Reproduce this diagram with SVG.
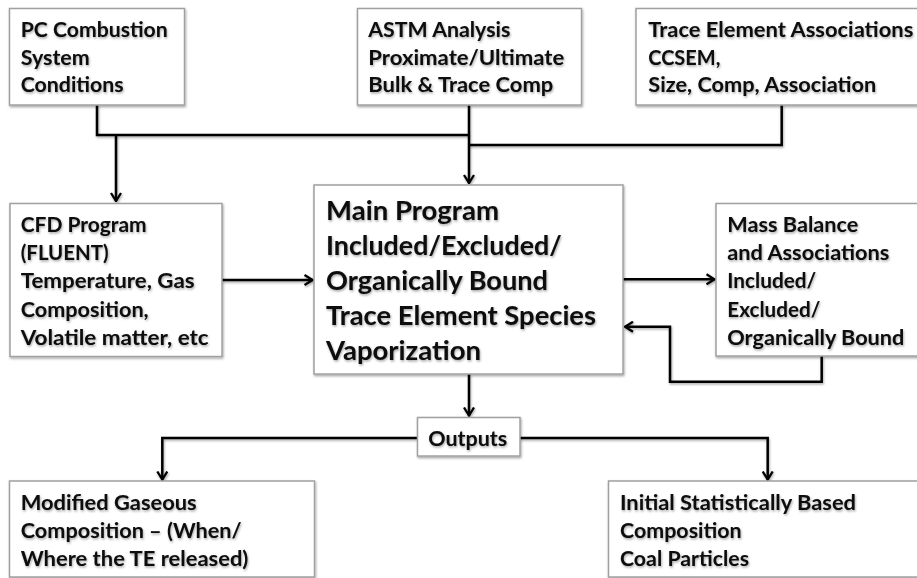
<svg xmlns="http://www.w3.org/2000/svg" width="917" height="578" viewBox="0 0 917 578">
<defs>
<filter id="sh" filterUnits="userSpaceOnUse" x="-10" y="-10" width="940" height="600">
<feDropShadow dx="0.8" dy="1.5" stdDeviation="1" flood-color="#000" flood-opacity="0.35"/>
</filter>
<marker id="ah" viewBox="0 0 10 12" refX="9" refY="6" markerWidth="10" markerHeight="12" markerUnits="userSpaceOnUse" orient="auto">
<path d="M1,1 L9,6 L1,11" fill="none" stroke="#000" stroke-width="2.3" stroke-linejoin="miter"/>
</marker>
</defs>
<style>
.box{fill:#fff;stroke:#a0a0a0;stroke-width:1.5;filter:url(#sh)}
.t{font-family:Lato,"Liberation Sans",sans-serif;font-weight:bold;font-size:21px;fill:#0a0a0a;filter:url(#sh)}
.big{font-size:27px}
.c{fill:none;stroke:#000;stroke-width:2.5;filter:url(#sh)}
.a{marker-end:url(#ah)}
</style>
<rect width="917" height="578" fill="#fff"/>
<g id="connectors">
<path class="c" d="M97,105 V135 H469"/>
<path class="c a" d="M116,135 V201"/>
<path class="c a" d="M469,105 V183"/>
<path class="c" d="M781.7,105 V145 H469"/>
<path class="c a" d="M222,280 H312.5"/>
<path class="c a" d="M623,279.3 H714.5"/>
<path class="c a" d="M821.7,356 V381.7 H670 V326.7 H625"/>
<path class="c a" d="M469,374 V415.5"/>
<path class="c a" d="M417.5,438 H162.3 V479.5"/>
<path class="c a" d="M520,438 H767.7 V479.5"/>
</g>
<g id="pc-combustion">
<rect class="box" x="9.5" y="8.5" width="175" height="96.5"/>
<text class="t" x="20.7" y="37" textLength="147" lengthAdjust="spacingAndGlyphs">PC Combustion</text>
<text class="t" x="20.7" y="64.5" textLength="69" lengthAdjust="spacingAndGlyphs">System</text>
<text class="t" x="20.7" y="92" textLength="103" lengthAdjust="spacingAndGlyphs">Conditions</text>
</g>
<g id="astm">
<rect class="box" x="357.5" y="8.5" width="224" height="96.5"/>
<text class="t" x="368.3" y="37" textLength="142" lengthAdjust="spacingAndGlyphs">ASTM Analysis</text>
<text class="t" x="368.3" y="64.5" textLength="196" lengthAdjust="spacingAndGlyphs">Proximate/Ultimate</text>
<text class="t" x="368.3" y="92" textLength="185" lengthAdjust="spacingAndGlyphs">Bulk &amp; Trace Comp</text>
</g>
<g id="trace-assoc">
<rect class="box" x="636" y="8.5" width="291" height="96.5"/>
<text class="t" x="648.3" y="37" textLength="265" lengthAdjust="spacingAndGlyphs">Trace Element Associations</text>
<text class="t" x="648.3" y="64.5" textLength="72" lengthAdjust="spacingAndGlyphs">CCSEM,</text>
<text class="t" x="648.3" y="92" textLength="228" lengthAdjust="spacingAndGlyphs">Size, Comp, Association</text>
</g>
<g id="cfd">
<rect class="box" x="10" y="203.5" width="212" height="153"/>
<text class="t" x="20.7" y="231.7" textLength="126" lengthAdjust="spacingAndGlyphs">CFD Program</text>
<text class="t" x="20.7" y="260" textLength="88" lengthAdjust="spacingAndGlyphs">(FLUENT)</text>
<text class="t" x="20.7" y="288.3" textLength="174" lengthAdjust="spacingAndGlyphs">Temperature, Gas</text>
<text class="t" x="20.7" y="316.7" textLength="128" lengthAdjust="spacingAndGlyphs">Composition,</text>
<text class="t" x="20.7" y="345" textLength="188" lengthAdjust="spacingAndGlyphs">Volatile matter, etc</text>
</g>
<g id="main">
<rect class="box" x="314" y="185" width="309" height="189"/>
<text class="t big" x="326" y="220" textLength="173" lengthAdjust="spacingAndGlyphs">Main Program</text>
<text class="t big" x="326" y="255" textLength="235.7" lengthAdjust="spacingAndGlyphs">Included/Excluded/</text>
<text class="t big" x="326" y="290" textLength="222" lengthAdjust="spacingAndGlyphs">Organically Bound</text>
<text class="t big" x="326" y="325" textLength="270" lengthAdjust="spacingAndGlyphs">Trace Element Species</text>
<text class="t big" x="326" y="360" textLength="155" lengthAdjust="spacingAndGlyphs">Vaporization</text>
</g>
<g id="mass-balance">
<rect class="box" x="716" y="203.5" width="211" height="152.5"/>
<text class="t" x="727.3" y="231.7" textLength="131" lengthAdjust="spacingAndGlyphs">Mass Balance</text>
<text class="t" x="727.3" y="260" textLength="162" lengthAdjust="spacingAndGlyphs">and Associations</text>
<text class="t" x="727.3" y="288.3" textLength="89" lengthAdjust="spacingAndGlyphs">Included/</text>
<text class="t" x="727.3" y="316.7" textLength="93" lengthAdjust="spacingAndGlyphs">Excluded/</text>
<text class="t" x="727.3" y="345" textLength="177" lengthAdjust="spacingAndGlyphs">Organically Bound</text>
</g>
<g id="outputs">
<rect class="box" x="417.5" y="417.5" width="102.5" height="38.5"/>
<text class="t" x="428.3" y="446" textLength="79" lengthAdjust="spacingAndGlyphs">Outputs</text>
</g>
<g id="modified-gaseous">
<rect class="box" x="9.5" y="481" width="305" height="96"/>
<text class="t" x="20.7" y="510" textLength="176" lengthAdjust="spacingAndGlyphs">Modified Gaseous</text>
<text class="t" x="20.7" y="538.3" textLength="221" lengthAdjust="spacingAndGlyphs">Composition – (When/</text>
<text class="t" x="20.7" y="566" textLength="227.7" lengthAdjust="spacingAndGlyphs">Where the TE released)</text>
</g>
<g id="initial-composition">
<rect class="box" x="608.5" y="481" width="319" height="96"/>
<text class="t" x="620" y="510" textLength="236" lengthAdjust="spacingAndGlyphs">Initial Statistically Based</text>
<text class="t" x="620" y="538.3" textLength="121.7" lengthAdjust="spacingAndGlyphs">Composition</text>
<text class="t" x="620" y="566" textLength="129" lengthAdjust="spacingAndGlyphs">Coal Particles</text>
</g>
</svg>
